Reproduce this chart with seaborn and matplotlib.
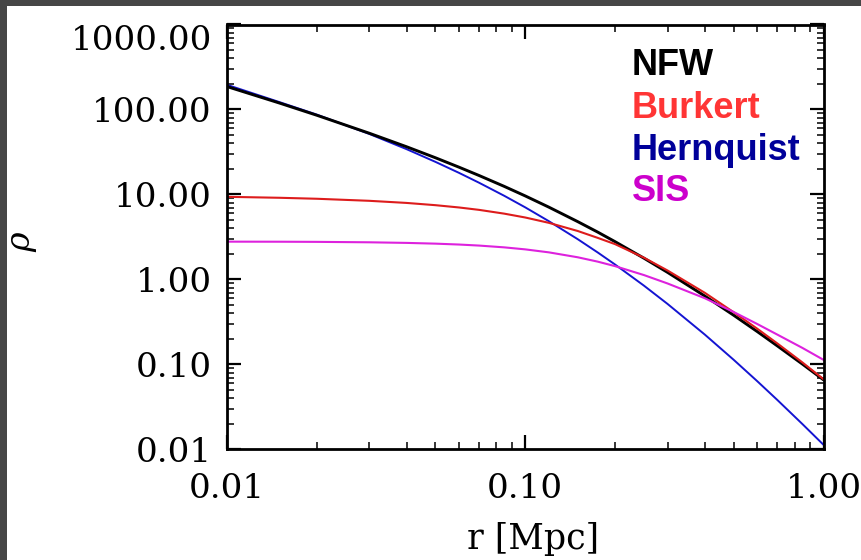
import numpy as np
import pandas as pd
import matplotlib.pyplot as plt
import seaborn as sns
from matplotlib.patches import Rectangle
from matplotlib.ticker import NullFormatter

# radius grid [Mpc] and density values
radius = [0.01, 0.015, 0.02, 0.03, 0.04, 0.05, 0.06, 0.07, 0.085, 0.1, 0.12, 0.15,
          0.175, 0.2, 0.25, 0.3, 0.4, 0.5, 0.6, 0.7, 0.85, 1.0]
nfw = [186, 118.9, 85.5, 52.5, 36.4, 27.0, 20.9, 16.7, 12.44, 9.60, 7.08, 4.78,
       3.60, 2.78, 1.776, 1.209, 0.637, 0.378, 0.2427, 0.165, 0.1006, 0.0657]
burkert = [9.37, 9.13, 8.89, 8.41, 7.94, 7.47, 7.02, 6.58, 5.94, 5.35, 4.63, 3.71,
           3.08, 2.60, 1.80, 1.272, 0.695, 0.410, 0.2622, 0.1763, 0.1052, 0.0668]
hernquist = [195, 122, 87, 51.5, 34.1, 24.15, 17.92, 13.73, 9.64, 7.04, 4.84, 2.97,
             2.073, 1.497, 0.844, 0.514, 0.224, 0.113, 0.0632, 0.0381, 0.0198, 0.0113]
sis = [2.78, 2.775, 2.764, 2.732, 2.688, 2.634, 2.571, 2.50, 2.382, 2.255, 2.080, 1.820,
       1.617, 1.432, 1.124, 0.895, 0.60, 0.413, 0.298, 0.224, 0.156, 0.113]

x_ticks = [0.01, 0.1, 1.0]
x_ticklabels = ['0.01', '0.10', '1.00']
y_ticks = [0.01, 0.1, 1, 10, 100, 1000]
y_ticklabels = ['0.01', '0.10', '1.00', '10.00', '100.00', '1000.00']

# long-form table for seaborn
df = pd.DataFrame({'r': radius, 'NFW': nfw, 'Burkert': burkert,
                   'Hernquist': hernquist, 'SIS': sis})
df = df.melt(id_vars='r', var_name='profile', value_name='rho')

line_colors = {'NFW': 'black', 'Burkert': '#dd1c1c',
               'Hernquist': '#1414d2', 'SIS': '#dd22dd'}
text_colors = {'NFW': 'black', 'Burkert': '#ff3535',
               'Hernquist': '#00009a', 'SIS': '#cc00cc'}
line_widths = {'NFW': 2.1, 'Burkert': 1.5, 'Hernquist': 1.4, 'SIS': 1.5}

sns.set_style('ticks')
plt.rcParams['font.family'] = ['DejaVu Serif']
plt.rcParams['mathtext.fontset'] = 'dejavuserif'

fig = plt.figure(figsize=(8.62, 5.6), dpi=100, facecolor='#464646')
# white page inside the dark screenshot frame
fig.add_artist(Rectangle((7 / 862, 0), 1, 1 - 6 / 560, transform=fig.transFigure,
                         facecolor='white', edgecolor='none', zorder=-10))
ax = fig.add_axes([227 / 862, 1 - 449.3 / 560, 596.5 / 862, 424.8 / 560])

# drawing order: blue under black, red/magenta on top
for name in ['Hernquist', 'NFW', 'Burkert', 'SIS']:
    sns.lineplot(data=df[df['profile'] == name], x='r', y='rho',
                 color=line_colors[name], linewidth=line_widths[name], ax=ax)

ax.set_xscale('log')
ax.set_yscale('log')
ax.set_xlim(0.01, 1.0)
ax.set_ylim(0.01, 1000)
ax.set_xticks(x_ticks, x_ticklabels)
ax.set_yticks(y_ticks, y_ticklabels)
ax.xaxis.set_minor_formatter(NullFormatter())
ax.yaxis.set_minor_formatter(NullFormatter())

ax.tick_params(which='major', direction='in', length=10, width=1.6,
               top=True, right=True, labelsize=24.5, colors='black')
ax.tick_params(which='minor', direction='in', length=5, width=1.3,
               top=True, right=True)
ax.tick_params(axis='x', which='major', pad=17)
ax.tick_params(axis='y', which='major', pad=11)
for s in ax.spines.values():
    s.set_linewidth(2)
    s.set_color('black')

# top label sits below its tick in the original
ax.get_yticklabels()[-1].set_va('top')

ax.set_xlabel('r [Mpc]', fontsize=25, color='black')
ax.set_ylabel(r'$\rho$', fontsize=24, color='black')
ax.yaxis.set_label_coords(-0.315, 0.49)
ax.xaxis.set_label_coords(0.513, -0.17)

# coloured text legend
ypos = [0.881, 0.78, 0.681, 0.5845]
for name, yy in zip(['NFW', 'Burkert', 'Hernquist', 'SIS'], ypos):
    ax.text(0.679, yy, name, transform=ax.transAxes, color=text_colors[name],
            fontfamily='Liberation Sans', fontweight='bold', fontsize=26,
            va='baseline', ha='left')

fig.savefig('out.png', dpi=100, facecolor=fig.get_facecolor())
